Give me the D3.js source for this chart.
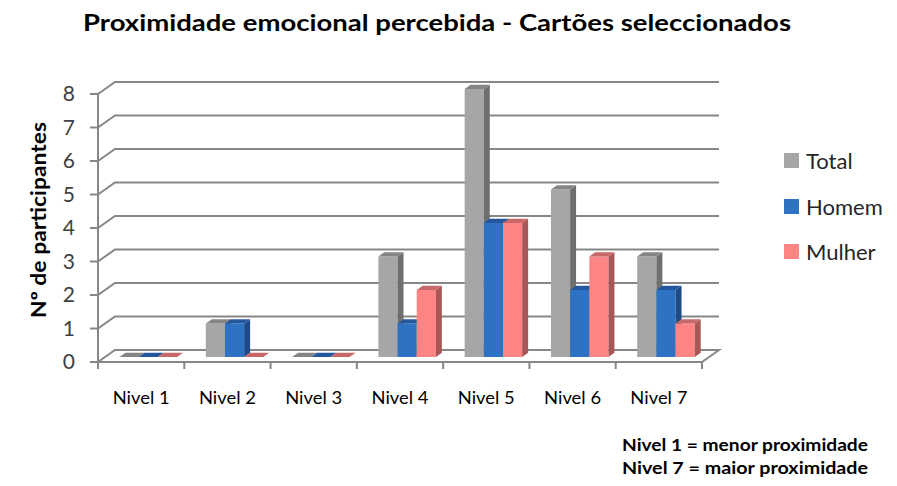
<!DOCTYPE html>
<html><head><meta charset="utf-8">
<script src="https://cdn.jsdelivr.net/npm/d3@7"></script>
<style>body{margin:0;background:#fff}svg{display:block}text{font-family:Lato,Carlito,"Liberation Sans",Arial,sans-serif}</style>
</head><body>
<script>
const categories = ["Nivel 1","Nivel 2","Nivel 3","Nivel 4","Nivel 5","Nivel 6","Nivel 7"];
const seriesNames = ["Total","Homem","Mulher"];
const totalValues = [0,1,0,3,8,5,3];
const homemValues = [0,1,0,1,4,2,2];
const mulherValues = [0,0,0,2,4,3,1];
const yTicks = [0,1,2,3,4,5,6,7,8];
const titleText = "Proximidade emocional percebida - Cartões seleccionados";
const yTitle = "Nº de participantes";
const notes = ["Nivel 1 = menor proximidade","Nivel 7 = maior proximidade"];

const colors = {
  Total:{front:"#A6A6A6",side:"#6F6F6F",top:"#858585"},
  Homem:{front:"#2E72C4",side:"#1E4A85",top:"#24589E"},
  Mulher:{front:"#FF8585",side:"#A85656",top:"#C86868"}
};
const values = {Total:totalValues,Homem:homemValues,Mulher:mulherValues};

const W=897,H=486;
const svg=d3.select("body").append("svg").attr("width",W).attr("height",H);

const x=d3.scaleBand().domain(categories).range([98,702]);
const y=d3.scaleLinear().domain([0,8]).range([362,94]);
const DX=17, DY=-12;
const P=(px,py,z)=>[px+z*DX,py+z*DY];
const xs=d3.scaleBand().domain(seriesNames).range([0,x.bandwidth()]).paddingInner(0).paddingOuter(0.75);
const grid="#878787";

// back wall gridlines + left wall diagonals
const gl=svg.append("g");
yTicks.forEach(t=>{
  const a=P(98,y(t),0), b=P(98,y(t),1), c=P(702,y(t),1);
  if(t>0) gl.append("path").attr("d",`M${a}L${b}L${c}`).attr("fill","none").attr("stroke",grid).attr("stroke-width",2);
});
// floor
const f0=P(98,y(0),0),f1=P(702,y(0),0),f2=P(702,y(0),1),f3=P(98,y(0),1);
svg.append("path").attr("d",`M${f0}L${f1}L${f2}L${f3}Z`).attr("fill","#fff").attr("stroke",grid).attr("stroke-width",2);

// y axis
svg.append("line").attr("x1",98).attr("x2",98).attr("y1",y(8)).attr("y2",y(0)+7).attr("stroke",grid).attr("stroke-width",2);
yTicks.forEach(t=>{
  svg.append("line").attr("x1",90).attr("x2",98).attr("y1",y(t)).attr("y2",y(t)).attr("stroke",grid).attr("stroke-width",2);
  svg.append("text").attr("x",75).attr("y",y(t)+7).attr("text-anchor","end").attr("font-size",21).attr("fill","#404040").text(t);
});
// x axis ticks
svg.append("line").attr("x1",98).attr("x2",702).attr("y1",y(0)).attr("y2",y(0)).attr("stroke",grid).attr("stroke-width",2);
[...categories.map(c=>x(c)),702].forEach(px=>{
  svg.append("line").attr("x1",px).attr("x2",px).attr("y1",y(0)).attr("y2",y(0)+7).attr("stroke",grid).attr("stroke-width",2);
});
categories.forEach(c=>{
  svg.append("text").attr("x",x(c)+x.bandwidth()/2).attr("y",404).attr("text-anchor","middle").attr("font-size",17).attr("fill","#000")
    .attr("textLength",57).attr("lengthAdjust","spacingAndGlyphs").text(c);
});

// bars
const z0=0.42, z1=0.77;
const bars=svg.append("g");
categories.forEach((c,i)=>{
  seriesNames.forEach(s=>{
    const v=values[s][i];
    const xl=x(c)+xs(s), xr=xl+xs.bandwidth();
    const yt=y(v), yb=y(0);
    const A=P(xl,yb,z0),B=P(xr,yb,z0),C=P(xr,yt,z0),D=P(xl,yt,z0);
    const Bb=P(xr,yb,z1),Cb=P(xr,yt,z1),Db=P(xl,yt,z1);
    const col=colors[s];
    if(v>0){
      bars.append("path").attr("d",`M${A}L${B}L${C}L${D}Z`).attr("fill",col.front);
      bars.append("path").attr("d",`M${B}L${Bb}L${Cb}L${C}Z`).attr("fill",col.side);
    }
    bars.append("path").attr("d",`M${D}L${C}L${Cb}L${Db}Z`).attr("fill",col.top);
  });
});

// title
svg.append("text").attr("x",437).attr("y",31).attr("text-anchor","middle").attr("font-size",22).attr("font-weight","bold")
  .attr("textLength",708).attr("lengthAdjust","spacingAndGlyphs").text(titleText);
// y title
svg.append("text").attr("transform","translate(46,220) rotate(-90)").attr("text-anchor","middle").attr("font-size",21).attr("font-weight","bold")
  .attr("textLength",196).attr("lengthAdjust","spacingAndGlyphs").text(yTitle);

// legend
const leg=svg.append("g");
const legY=[161,207,252];
seriesNames.forEach((s,i)=>{
  leg.append("rect").attr("x",784).attr("y",legY[i]-8).attr("width",15).attr("height",15).attr("fill",colors[s].front);
  leg.append("text").attr("x",806).attr("y",legY[i]+8).attr("font-size",22).attr("fill","#262626").text(s);
});

// notes
notes.forEach((n,i)=>{
  svg.append("text").attr("x",622).attr("y",451+i*23).attr("font-size",17).attr("font-weight","bold")
    .attr("textLength",246).attr("lengthAdjust","spacingAndGlyphs").text(n);
});
</script>
</body></html>
